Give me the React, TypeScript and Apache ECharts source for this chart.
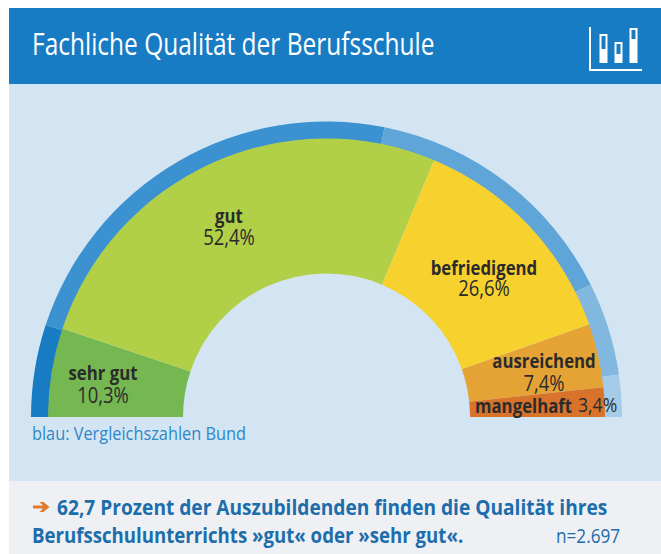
import React, { useEffect, useRef } from "react";
import * as echarts from "echarts";

const categories = ["sehr gut", "gut", "befriedigend", "ausreichend", "mangelhaft"];
const azubiValues = [10.3, 52.4, 26.6, 7.4, 3.4];
const bundValues = [10.1, 46.2, 28.9, 10.2, 4.6];
const azubiColors = ["#75b852", "#b1cf47", "#f7d22f", "#e5a335", "#d8732c"];
const bundColors = ["#177cc4", "#3c92d0", "#5fa5d7", "#82b7df", "#a4cce9"];
const titleText = "Fachliche Qualität der Berufsschule";
const noteText = "blau: Vergleichszahlen Bund";
const footerLine1 = "62,7 Prozent der Auszubildenden finden die Qualität ihres";
const footerLine2 = "Berufsschulunterrichts »gut« oder »sehr gut«.";
const sampleText = "n=2.697";

const FONT = '"Open Sans", "Noto Sans", sans-serif';
const pct = (v: number) => v.toFixed(1).replace(".", ",") + "%";

function txt(text: string, x: number, y: number, size: number, color: string, opts: any = {}) {
  return {
    type: "text",
    x,
    y,
    z: 100,
    scaleX: opts.sx ?? 0.84,
    silent: true,
    style: {
      text,
      fontFamily: opts.font ?? FONT,
      fontSize: size,
      fontWeight: opts.weight ?? "normal",
      fill: color,
      textAlign: opts.align ?? "center",
      textVerticalAlign: "middle",
    },
  };
}

function rect(x: number, y: number, w: number, h: number, fill: string, z = 0) {
  return { type: "rect", z, silent: true, shape: { x, y, width: w, height: h }, style: { fill } };
}

export default function App() {
  const ref = useRef<HTMLDivElement>(null);
  useEffect(() => {
    document.body.style.margin = "0";
    const chart = echarts.init(ref.current!, null, { renderer: "svg" });
    const DARK = "#2b2b2b";
    const BOLD = { weight: "bold" };
    const VAL = { sx: 0.88 };
    const pie = (name: string, values: number[], colors: string[], radius: number[]) => ({
      type: "pie",
      name,
      silent: true,
      center: [326.5, 417],
      radius,
      startAngle: 180,
      endAngle: 0,
      clockwise: true,
      label: { show: false },
      labelLine: { show: false },
      itemStyle: { borderWidth: 0 },
      data: categories.map((c, i) => ({ name: c, value: values[i], itemStyle: { color: colors[i] } })),
    });
    chart.setOption({
      animation: false,
      backgroundColor: "#ffffff",
      series: [
        pie("Bund", bundValues, bundColors, [278, 295.5]),
        pie("Azubis", azubiValues, azubiColors, [143.5, 278.5]),
      ],
      graphic: {
        elements: [
          rect(9, 8, 652, 76, "#177cc3"),
          rect(9, 84, 652, 397, "#d3e5f3"),
          rect(9, 481, 652, 73, "#eef0f4"),
          txt(titleText, 32, 43, 31, "#ffffff", { align: "left", sx: 0.79 }),
          // icon
          rect(589, 27, 2, 44, "#ffffff", 50),
          rect(589, 69, 53, 2, "#ffffff", 50),
          rect(599.5, 34, 8, 29, "#ffffff", 50),
          rect(601.5, 36, 4, 13, "#177cc3", 51),
          rect(614.5, 42, 8, 21, "#ffffff", 50),
          rect(616.5, 44, 4, 10, "#177cc3", 51),
          rect(629.5, 28, 8, 35, "#ffffff", 50),
          rect(631.5, 30, 4, 9, "#177cc3", 51),
          // labels
          txt(categories[1], 229, 215, 20, DARK, BOLD),
          txt(pct(azubiValues[1]), 229, 237, 21, DARK, VAL),
          txt(categories[2], 484, 267, 20, DARK, BOLD),
          txt(pct(azubiValues[2]), 484, 288, 21, DARK, VAL),
          txt(categories[0], 103, 372, 20, DARK, BOLD),
          txt(pct(azubiValues[0]), 103, 395, 21, DARK, VAL),
          txt(categories[3], 544, 360, 20, DARK, BOLD),
          txt(pct(azubiValues[3]), 544, 383, 21, DARK, VAL),
          txt(categories[4], 475, 405, 20, DARK, { ...BOLD, align: "left" }),
          txt(pct(azubiValues[4]), 578, 405, 20, DARK, { align: "left", sx: 0.88 }),
          txt(noteText, 32, 432, 19, "#2e87c8", { align: "left", sx: 0.86 }),
          // footer
          {
            type: "polygon",
            z: 100,
            silent: true,
            shape: {
              points: [[33, 505.5], [43, 505.5], [39.5, 502], [43.5, 502], [49.5, 507], [43.5, 512], [39.5, 512], [43, 508.5], [33, 508.5]],
            },
            style: { fill: "#e07b2e" },
          },
          txt(footerLine1, 57, 506, 22, "#1c6dab", { align: "left", weight: "bold", sx: 0.87 }),
          txt(footerLine2, 32, 534, 22, "#1c6dab", { align: "left", weight: "bold", sx: 0.848 }),
          txt(sampleText, 556, 535, 20, "#1c6dab", { align: "left", sx: 0.86 }),
        ],
      },
    });
    return () => chart.dispose();
  }, []);
  return <div ref={ref} style={{ width: 661, height: 554 }} />;
}
